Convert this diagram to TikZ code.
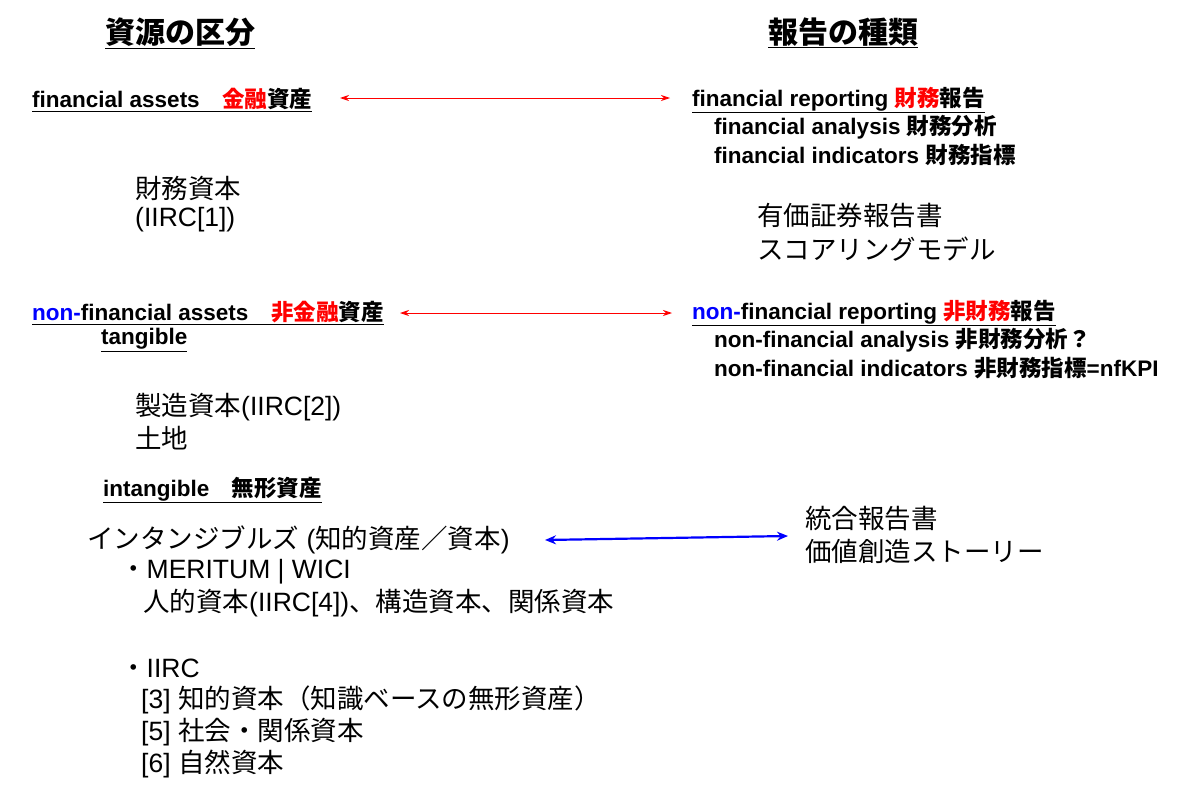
\documentclass[tikz,border=0pt]{standalone}
\usepackage{fontspec}
\usetikzlibrary{arrows.meta}
\setmainfont{Liberation Sans}
\newfontfamily\cjk{Noto Sans CJK JP}
\newcommand\J[1]{{\cjk #1}}
\begin{document}
\begin{tikzpicture}[x=1pt,y=-1pt,
  bt/.style={anchor=west,inner sep=0pt,font=\fontsize{22.5}{26}\selectfont\bfseries},
  nt/.style={anchor=west,inner sep=0pt,font=\fontsize{26.5}{30}\selectfont},
  tt/.style={inner sep=0pt,font=\fontsize{30}{34}\selectfont\bfseries},
  rarr/.style={red,{Stealth[length=9pt,width=6pt]}-{Stealth[length=9pt,width=6pt]},line width=0.9pt},
  barr/.style={blue,{Stealth[length=11pt,width=9pt]}-{Stealth[length=11pt,width=9pt]},line width=2.2pt}]
\useasboundingbox (0,0) rectangle (1196,800);
\node[tt] (t1) at (180,33) {\underline{\J{資源の区分}}};
\node[tt] (t2) at (843,33) {\underline{\J{報告の種類}}};
\node[bt] (fa) at (32,100) {\underline{financial assets\J{　}\textcolor{red}{\J{金融}}\J{資産}}};
\node[bt] (fr) at (692,100) {\underline{financial reporting \textcolor{red}{\J{財務}}\J{報告}}};
\node[bt] at (714,127) {financial analysis \J{財務分析}};
\node[bt] at (714,155) {financial indicators \J{財務指標}};
\draw[rarr] (340,98) coordinate (a1) -- (670,98) coordinate (a2);
\node[nt] at (135,188) {\J{財務資本}};
\node[nt] at (135,220) {(IIRC[1])};
\node[nt] at (757,216) {\J{有価証券報告書}};
\node[nt] at (757,249) {\J{スコアリングモデル}};
\node[bt] (nfa) at (32,313) {\underline{\textcolor{blue}{non-}financial assets\J{　}\textcolor{red}{\J{非金融}}\J{資産}}};
\node[bt] (nfr) at (692,313) {\underline{\textcolor{blue}{non-}financial reporting \textcolor{red}{\J{非財務}}\J{報告}}};
\draw[rarr] (400,313) coordinate (b1) -- (672,313) coordinate (b2);
\node[bt] at (101,340) {\underline{tangible}};
\node[bt] at (714,340) {non-financial analysis \J{非財務分析？}};
\node[bt] at (714,368) {non-financial indicators \J{非財務指標}=nfKPI};
\node[nt] at (135,407) {\J{製造資本}(IIRC[2])};
\node[nt] at (135,438) {\J{土地}};
\node[bt] at (103,490) {\underline{intangible\J{　無形資産}}};
\node[nt] (int) at (87,540) {\J{インタンジブルズ} (\J{知的資産／資本})};
\node[nt] (ir) at (805,519) {\J{統合報告書}};
\node[nt] at (805,551) {\J{価値創造ストーリー}};
\draw[barr] (545,540) coordinate (c1) -- (788,536) coordinate (c2);
\node[nt] at (120,572) {\J{・}MERITUM | WICI};
\node[nt] at (143,603) {\J{人的資本}(IIRC[4])\J{、構造資本、関係資本}};
\node[nt] at (120,668) {\J{・}IIRC};
\node[nt] at (141,700) {[3] \J{知的資本（知識ベースの無形資産）}};
\node[nt] at (141,732) {[5] \J{社会・関係資本}};
\node[nt] at (141,764) {[6] \J{自然資本}};
\end{tikzpicture}
\end{document}
